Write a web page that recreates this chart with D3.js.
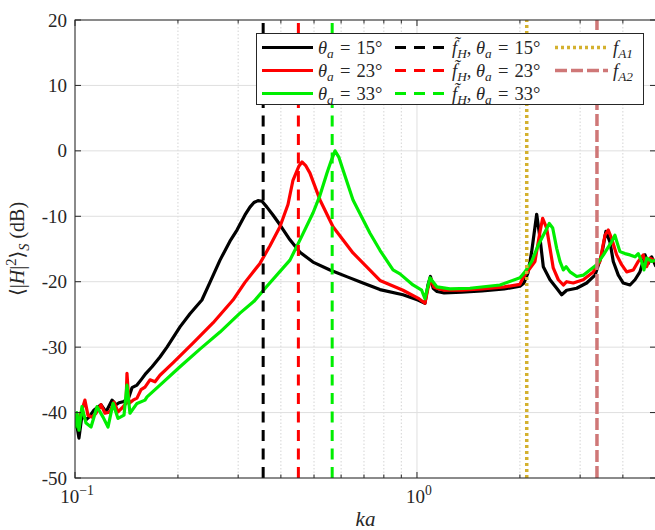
<!DOCTYPE html>
<html>
<head>
<meta charset="utf-8">
<script src="https://cdn.jsdelivr.net/npm/d3@7"></script>
<style>
	body { margin: 0; background: #fff; }
	svg { display: block; }
</style>
</head>
<body>
<div id="chart"></div>
<script>
'use strict';

/*** Data ---> ***/
var kaTheta15 = [0.1000, 0.1013, 0.1027, 0.1048, 0.1077, 0.1099, 0.1137, 0.1191, 0.1232, 0.1283, 0.1318, 0.1345, 0.1391, 0.1438, 0.1468, 0.1518, 0.1560, 0.1613, 0.1680, 0.1772, 0.1858, 0.2028, 0.2169, 0.2350, 0.2481, 0.2655, 0.2839, 0.2976, 0.3141, 0.3248, 0.3337, 0.3428, 0.3522, 0.3641, 0.3792, 0.3975, 0.4252, 0.4549, 0.4965, 0.5567, 0.6283, 0.6952, 0.7795, 0.9101, 1.0067, 1.0553, 1.0769, 1.0950, 1.1150, 1.1443, 1.2000, 1.3500, 1.5500, 1.8000, 2.0000, 2.0550, 2.1100, 2.1650, 2.2390, 2.2890, 2.3410, 2.4490, 2.5620, 2.6490, 2.7400, 2.9310, 3.1350, 3.3160, 3.4670, 3.5690, 3.6670, 3.7500, 3.8790, 4.0110, 4.1960, 4.3410, 4.4880, 4.6420, 4.7470, 4.8570, 5.0000];
var dbTheta15 = [-40.6, -42.0, -43.9, -40.4, -41.1, -40.7, -39.6, -38.8, -39.9, -38.1, -38.8, -38.5, -38.3, -37.6, -36.2, -35.8, -35.0, -34.0, -33.0, -31.5, -30.0, -26.9, -24.9, -22.8, -20.1, -16.7, -13.8, -12.1, -9.8, -8.6, -7.9, -7.6, -7.7, -8.6, -9.8, -11.3, -13.6, -15.5, -17.0, -18.2, -19.3, -20.2, -21.2, -22.0, -22.8, -23.3, -20.5, -19.2, -21.0, -21.5, -21.7, -21.6, -21.4, -21.1, -20.7, -20.2, -18.7, -15.4, -9.7, -13.3, -17.7, -19.7, -21.0, -22.0, -21.3, -21.0, -20.2, -19.0, -15.9, -12.3, -13.9, -16.9, -19.0, -20.2, -20.5, -19.7, -18.5, -15.9, -17.2, -16.2, -17.7];

var kaTheta23 = [0.1000, 0.1027, 0.1048, 0.1069, 0.1091, 0.1121, 0.1152, 0.1191, 0.1224, 0.1266, 0.1300, 0.1336, 0.1372, 0.1410, 0.1419, 0.1438, 0.1478, 0.1518, 0.1560, 0.1602, 0.1657, 0.1714, 0.1772, 0.1934, 0.2213, 0.2532, 0.2897, 0.3141, 0.3474, 0.3717, 0.3975, 0.4196, 0.4339, 0.4519, 0.4611, 0.4735, 0.4865, 0.5205, 0.5682, 0.6501, 0.7795, 0.9101, 1.0067, 1.0553, 1.0769, 1.0990, 1.1200, 1.1443, 1.2000, 1.3500, 1.5500, 1.8000, 2.0000, 2.0410, 2.2130, 2.2890, 2.3310, 2.3940, 2.4490, 2.5030, 2.5900, 2.6790, 2.7400, 2.8640, 3.0640, 3.2780, 3.4280, 3.5460, 3.6260, 3.7090, 3.8360, 3.9670, 4.1040, 4.2910, 4.4370, 4.5890, 4.6940, 4.8010, 5.0000];
var dbTheta23 = [-41.9, -40.8, -39.6, -38.1, -40.4, -40.7, -40.1, -38.8, -40.1, -39.9, -38.4, -39.9, -39.3, -38.6, -34.0, -38.6, -38.1, -37.8, -36.5, -36.1, -35.0, -35.3, -34.3, -32.4, -29.4, -26.3, -22.8, -20.1, -17.2, -14.5, -11.6, -8.2, -4.5, -2.3, -1.7, -2.3, -3.4, -7.5, -11.6, -15.6, -19.8, -21.3, -22.5, -23.3, -21.0, -19.6, -20.8, -21.0, -21.3, -21.3, -21.1, -20.8, -20.4, -19.4, -16.9, -12.4, -10.3, -11.8, -14.9, -17.9, -19.7, -20.5, -20.0, -20.2, -19.7, -18.5, -16.9, -12.9, -12.1, -13.4, -15.9, -17.4, -18.5, -18.2, -16.9, -15.9, -17.7, -16.4, -16.9];

var kaTheta33 = [0.1000, 0.1013, 0.1027, 0.1048, 0.1077, 0.1114, 0.1160, 0.1208, 0.1249, 0.1292, 0.1336, 0.1391, 0.1419, 0.1448, 0.1518, 0.1602, 0.1624, 0.1772, 0.2028, 0.2319, 0.2655, 0.3037, 0.3337, 0.3641, 0.4252, 0.4549, 0.4965, 0.5205, 0.5456, 0.5605, 0.5759, 0.5914, 0.6075, 0.6501, 0.7289, 0.7795, 0.8510, 0.8918, 0.9734, 1.0320, 1.0553, 1.0914, 1.1063, 1.1443, 1.2485, 1.4289, 1.7484, 2.0006, 2.0690, 2.1650, 2.2630, 2.3680, 2.4370, 2.4940, 2.5620, 2.6190, 2.6790, 2.7300, 2.8020, 2.9310, 3.0640, 3.2050, 3.3530, 3.5100, 3.6060, 3.7090, 3.7920, 3.8520, 3.9220, 4.0570, 4.1960, 4.3410, 4.4370, 4.5390, 4.6100, 4.6940, 4.8570, 5.0000];
var dbTheta33 = [-42.4, -40.0, -42.7, -39.1, -41.6, -42.2, -39.1, -40.7, -42.2, -38.6, -40.9, -40.4, -35.8, -40.1, -38.6, -38.1, -37.6, -35.8, -33.0, -30.3, -27.7, -24.8, -23.0, -20.7, -16.7, -13.6, -9.5, -6.8, -3.4, -1.6, 0.0, -1.0, -2.9, -7.5, -12.6, -15.2, -18.2, -18.8, -20.5, -21.3, -22.6, -19.4, -19.8, -20.8, -21.1, -21.0, -20.5, -19.4, -18.5, -16.9, -14.4, -12.4, -11.1, -11.8, -14.9, -16.9, -18.2, -17.7, -18.5, -19.2, -19.0, -18.2, -17.4, -15.9, -14.9, -13.9, -12.9, -14.1, -15.4, -15.7, -15.9, -16.2, -15.7, -16.9, -18.2, -16.4, -16.9, -16.7];

var thetaLabels = ['15', '23', '33'];
var thetaColors = ['#000000', '#ff0000', '#00ee00'];
var fHValues = [0.355, 0.45, 0.565];
var fAValues = [2.094, 3.36];
var fALabels = ['A1', 'A2'];
var fAColors = ['#d4b12f', '#cf7777'];

var yTicks = [-50, -40, -30, -20, -10, 0, 10, 20];
var xMajorTicks = [0.1, 1];
var xMinorTicks = [0.2, 0.3, 0.4, 0.5, 0.6, 0.7, 0.8, 0.9, 2, 3, 4];
/*** <--- Data ***/

var width = 655, height = 530;
var plot = { left: 75, right: 656, top: 20, bottom: 478 };
var axisColor = '#262626';
var fontFamily = "'Liberation Serif', 'Times New Roman', 'DejaVu Serif', serif";

var svg = d3.select('#chart').append('svg')
	.attr('width', width)
	.attr('height', height)
	.attr('font-family', fontFamily);

svg.append('rect').attr('width', width).attr('height', height).attr('fill', '#fff');

var x = d3.scaleLog().domain([0.1, 5]).range([plot.left, plot.right]);
var y = d3.scaleLinear().domain([-50, 20]).range([plot.bottom, plot.top]);

svg.append('clipPath').attr('id', 'plotClip')
	.append('rect')
	.attr('x', plot.left).attr('y', plot.top)
	.attr('width', plot.right - plot.left).attr('height', plot.bottom - plot.top);

// rich text: parts are {t, it, sub, sup, dx}
function addRichText(sel, parts, size) {
	var text = sel.append('text').attr('font-size', size).attr('font-family', fontFamily);
	var shift = 0;
	parts.forEach(function(p) {
		var ts = text.append('tspan').text(p.t);
		var target = p.sub ? size * 0.25 : (p.sup ? -size * 0.4 : 0);
		ts.attr('dy', target - shift);
		shift = target;
		if (p.it) ts.attr('font-style', 'italic');
		if (p.sub || p.sup) ts.attr('font-size', size * 0.72);
		if (p.dx) ts.attr('dx', p.dx);
	});
	return text;
}

/*** Grid ---> ***/
var grid = svg.append('g');
grid.selectAll('line.minor')
	.data(xMinorTicks)
	.enter().append('line')
	.attr('class', 'minor')
	.attr('x1', function(d) { return x(d); }).attr('x2', function(d) { return x(d); })
	.attr('y1', plot.top).attr('y2', plot.bottom)
	.attr('stroke', '#d4d4d4').attr('stroke-width', 1).attr('stroke-dasharray', '1.5,2');
grid.selectAll('line.xmajor')
	.data(xMajorTicks)
	.enter().append('line')
	.attr('class', 'xmajor')
	.attr('x1', function(d) { return x(d); }).attr('x2', function(d) { return x(d); })
	.attr('y1', plot.top).attr('y2', plot.bottom)
	.attr('stroke', '#dfdfdf').attr('stroke-width', 1);
grid.selectAll('line.ymajor')
	.data(yTicks)
	.enter().append('line')
	.attr('class', 'ymajor')
	.attr('x1', plot.left).attr('x2', plot.right)
	.attr('y1', function(d) { return y(d); }).attr('y2', function(d) { return y(d); })
	.attr('stroke', '#dfdfdf').attr('stroke-width', 1);
/*** <--- Grid ***/

/*** Series ---> ***/
var series = [
	{ ka: kaTheta15, db: dbTheta15 },
	{ ka: kaTheta23, db: dbTheta23 },
	{ ka: kaTheta33, db: dbTheta33 }
];

var line = d3.line()
	.x(function(d) { return x(d[0]); })
	.y(function(d) { return y(d[1]); });

var dataLayer = svg.append('g').attr('clip-path', 'url(#plotClip)');

series.forEach(function(s, i) {
	dataLayer.append('path')
		.datum(d3.zip(s.ka, s.db))
		.attr('d', line)
		.attr('fill', 'none')
		.attr('stroke', thetaColors[i])
		.attr('stroke-width', 3.2)
		.attr('stroke-linejoin', 'round');
});

dataLayer.selectAll('line.fh')
	.data(fHValues)
	.enter().append('line')
	.attr('class', 'fh')
	.attr('x1', function(d) { return x(d); }).attr('x2', function(d) { return x(d); })
	.attr('y1', plot.bottom).attr('y2', plot.top)
	.attr('stroke', function(d, i) { return thetaColors[i]; })
	.attr('stroke-width', 3)
	.attr('stroke-dasharray', '11,7.5');

var fADash = ['3,3', '12,4'];
dataLayer.selectAll('line.fa')
	.data(fAValues)
	.enter().append('line')
	.attr('class', 'fa')
	.attr('x1', function(d) { return x(d); }).attr('x2', function(d) { return x(d); })
	.attr('y1', plot.bottom).attr('y2', plot.top)
	.attr('stroke', function(d, i) { return fAColors[i]; })
	.attr('stroke-width', 3.5)
	.attr('stroke-dasharray', function(d, i) { return fADash[i]; });
/*** <--- Series ***/

/*** Axes ---> ***/
var axes = svg.append('g').attr('stroke', axisColor).attr('stroke-width', 1);
axes.append('rect')
	.attr('x', plot.left).attr('y', plot.top)
	.attr('width', plot.right - plot.left).attr('height', plot.bottom - plot.top)
	.attr('fill', 'none');

yTicks.forEach(function(t) {
	axes.append('line').attr('x1', plot.left).attr('x2', plot.left + 6).attr('y1', y(t)).attr('y2', y(t));
	axes.append('line').attr('x1', plot.right).attr('x2', plot.right - 6).attr('y1', y(t)).attr('y2', y(t));
});
xMajorTicks.concat(xMinorTicks).forEach(function(t) {
	var len = xMajorTicks.indexOf(t) >= 0 ? 6 : 3.5;
	axes.append('line').attr('x1', x(t)).attr('x2', x(t)).attr('y1', plot.bottom).attr('y2', plot.bottom - len);
	axes.append('line').attr('x1', x(t)).attr('x2', x(t)).attr('y1', plot.top).attr('y2', plot.top + len);
});

var labels = svg.append('g').attr('fill', axisColor);
labels.selectAll('text.ytick')
	.data(yTicks)
	.enter().append('text')
	.attr('class', 'ytick')
	.attr('x', plot.left - 8)
	.attr('y', function(d) { return y(d) + 6.5; })
	.attr('text-anchor', 'end')
	.attr('font-size', 19)
	.attr('font-family', fontFamily)
	.text(function(d) { return String(d); });

xMajorTicks.forEach(function(t) {
	var exp = Math.round(Math.log10(t));
	addRichText(labels, [{ t: '10' }, { t: exp < 0 ? '\u2212' + (-exp) : String(exp), sup: true }], 19)
		.attr('x', x(t) + 2)
		.attr('y', 503)
		.attr('text-anchor', 'middle');
});

addRichText(labels, [{ t: 'ka', it: true }], 21)
	.attr('x', (plot.left + plot.right) / 2)
	.attr('y', 526)
	.attr('text-anchor', 'middle');

addRichText(labels.append('g').attr('transform', 'translate(24,' + ((plot.top + plot.bottom) / 2) + ') rotate(-90)'), [
	{ t: '\u27E8|' }, { t: 'H', it: true }, { t: '|' }, { t: '2', sup: true }, { t: '\u27E9' },
	{ t: 'S', it: true, sub: true }, { t: ' (dB)' }
], 20).attr('text-anchor', 'middle');
/*** <--- Axes ***/

/*** Legend ---> ***/
var legend = svg.append('g');
legend.append('rect')
	.attr('x', 256.5).attr('y', 33.5)
	.attr('width', 387).attr('height', 71)
	.attr('fill', '#fff')
	.attr('stroke', axisColor).attr('stroke-width', 1);

var rowY = [47.5, 70.5, 93.5];

function thetaParts(v) {
	return [{ t: '\u03B8', it: true }, { t: 'a', it: true, sub: true }, { t: ' =', dx: 1.5 }, { t: ' ' + v + '\u00B0', dx: 1.5 }];
}

thetaLabels.forEach(function(v, i) {
	legend.append('line')
		.attr('x1', 262).attr('x2', 313).attr('y1', rowY[i]).attr('y2', rowY[i])
		.attr('stroke', thetaColors[i]).attr('stroke-width', 3);
	addRichText(legend, thetaParts(v), 18.5)
		.attr('x', 318).attr('y', rowY[i] + 6).attr('fill', axisColor);

	legend.append('line')
		.attr('x1', 395).attr('x2', 445).attr('y1', rowY[i]).attr('y2', rowY[i])
		.attr('stroke', thetaColors[i]).attr('stroke-width', 3)
		.attr('stroke-dasharray', '11,8');
	addRichText(legend, [
		{ t: 'f\u0303', it: true }, { t: 'H', it: true, sub: true }, { t: ', ' }
	].concat(thetaParts(v)), 18.5)
		.attr('x', 452).attr('y', rowY[i] + 6).attr('fill', axisColor);
});

fALabels.forEach(function(lab, i) {
	legend.append('line')
		.attr('x1', 555).attr('x2', 608).attr('y1', rowY[i]).attr('y2', rowY[i])
		.attr('stroke', fAColors[i]).attr('stroke-width', 3.5)
		.attr('stroke-dasharray', fADash[i]);
	addRichText(legend, [{ t: 'f', it: true }, { t: lab, it: true, sub: true }], 18.5)
		.attr('x', 613).attr('y', rowY[i] + 6).attr('fill', axisColor);
});
/*** <--- Legend ***/
</script>
</body>
</html>
